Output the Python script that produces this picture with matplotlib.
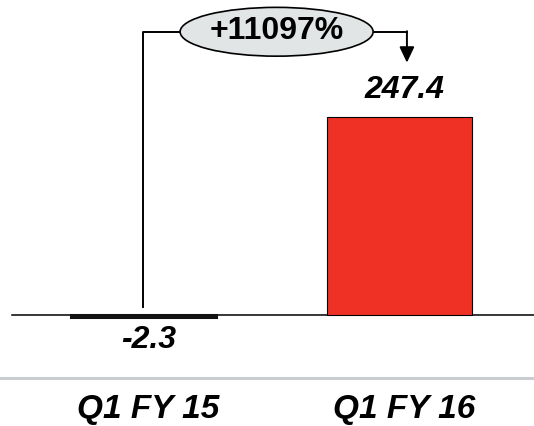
import matplotlib.pyplot as plt
from matplotlib.patches import Ellipse

# === DATA ===
quarters = ['Q1 FY 15', 'Q1 FY 16']
values = [-2.3, 247.4]
value_labels = ['-2.3', '247.4']
growth_label = '+11097%'

plt.rcParams['font.family'] = ['Liberation Sans', 'DejaVu Sans']

# === PLOT ===
fig = plt.figure(figsize=(5.34, 4.26), dpi=100)
ax = fig.add_axes([0, 0, 1, 1])
ax.set_xlim(-0.5605, 1.5254)
ax.set_ylim(-138.7, 393.7)
ax.axis('off')

x = list(range(len(quarters)))
ax.bar(x, values, width=0.566, color='#ee3124', edgecolor=['#111111', 'black'],
       linewidth=[2.2, 0.8], zorder=3)

# zero line and separator
ax.axhline(0, xmin=12 / 534, xmax=1, color='black', linewidth=1.1, zorder=2)
ax.axhline(-78.7, color='#c9cdd2', linewidth=2.2, zorder=1)

# value labels
for xi, v, lab in zip(x, values, value_labels):
    off = 34 if v >= 0 else -29
    ax.text(xi + 0.02, v + off, lab, ha='center', va='center', fontsize=23,
            fontweight='bold', fontstyle='italic')

# category labels
for xi, q in zip(x, quarters):
    ax.text(xi + 0.02, -118, q, ha='center', va='center', fontsize=24,
            fontweight='bold', fontstyle='italic')

# growth bracket
top = 354
ell_x, ell_w, ell_h = 0.52, 0.754, 61
ax.plot([x[0], x[0], ell_x - ell_w / 2], [10, top, top], color='black', linewidth=1.4)
ax.plot([ell_x + ell_w / 2, x[1] + 0.029], [top, top], color='black', linewidth=1.4)
ax.annotate('', xy=(x[1] + 0.029, values[1] + 68), xytext=(x[1] + 0.029, top + 0.7),
            arrowprops=dict(arrowstyle='-|>,head_length=0.95,head_width=0.45',
                            mutation_scale=10, color='black', linewidth=1.4,
                            shrinkA=0, shrinkB=0))
ax.add_patch(Ellipse((ell_x, top), ell_w, ell_h, facecolor='#e1e5e5',
                     edgecolor='black', linewidth=1.2, zorder=4))
ax.text(ell_x, top + 1, growth_label, ha='center', va='center', fontsize=23,
        fontweight='bold', zorder=5)

fig.savefig('out.png', dpi=100)
